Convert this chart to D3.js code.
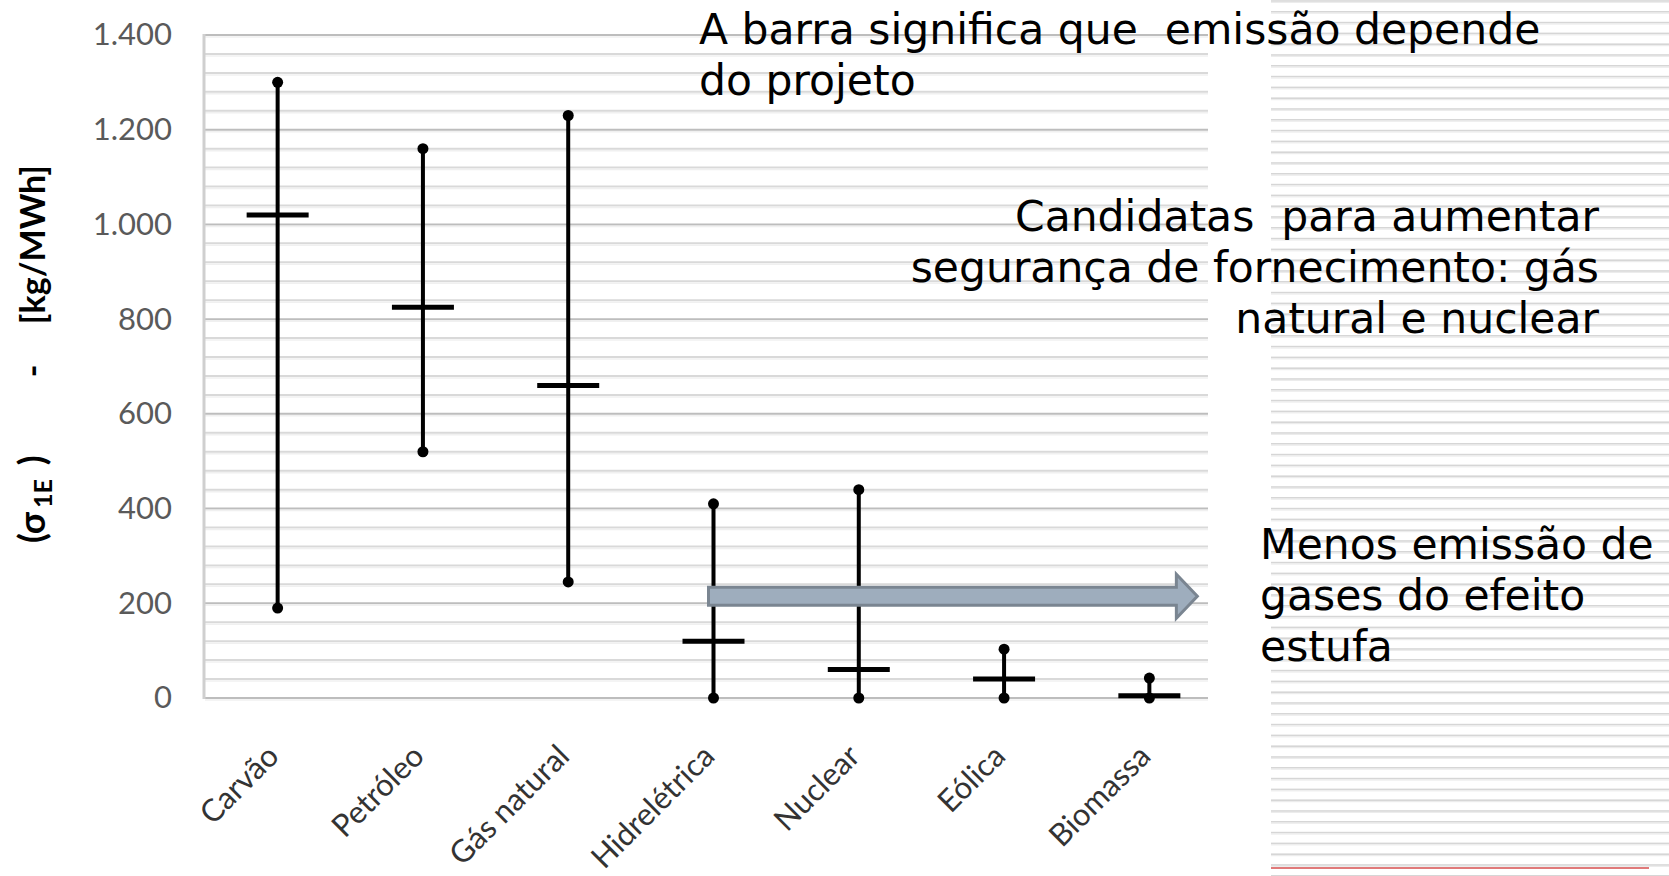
<!DOCTYPE html>
<html><head><meta charset="utf-8">
<script src="https://cdn.jsdelivr.net/npm/d3@7"></script>
<style>body{margin:0;background:#fff}svg{display:block}</style>
</head><body>
<svg id="c" width="1669" height="876"></svg>
<script>
const categories = ["Carvão","Petróleo","Gás natural","Hidrelétrica","Nuclear","Eólica","Biomassa"];
const minValues  = [190, 520, 245, 0, 0, 0, 0];
const meanValues = [1020, 825, 660, 120, 60, 40, 5];
const maxValues  = [1300, 1160, 1230, 410, 440, 103, 42];
const yTicks = [0, 200, 400, 600, 800, 1000, 1200, 1400];
const yTickLabels = ["0", "200", "400", "600", "800", "1.000", "1.200", "1.400"];
const minorStep = 40;
const noteTop = ["A barra significa que  emissão depende", "do projeto"];
const noteRight = ["Candidatas  para aumentar", "segurança de fornecimento: gás", "natural e nuclear"];
const noteArrow = ["Menos emissão de", "gases do efeito", "estufa"];
const arrowValue = 215, arrowFrom = "Hidrelétrica", arrowTo = "Biomassa";

const W = 1669, H = 876;
const svg = d3.select("#c");
const y = d3.scaleLinear().domain([0, 1400]).range([698, 35]);
const x = d3.scaleBand().domain(categories).range([205, 1222]).padding(0);
const cx = c => x(c) + x.bandwidth() / 2;
const gridRight = 1208;

// slide background stripes (right side)
const stripes = svg.append("g");
d3.range(0, 82).forEach(k => {
  const yy = 0.2 + k * 10.8;
  stripes.append("rect").attr("x", 1271).attr("y", yy).attr("width", W - 1271).attr("height", 1.6).attr("fill", "#d6d6d6");
  stripes.append("rect").attr("x", 1271).attr("y", yy + 1.6).attr("width", W - 1271).attr("height", 1.2).attr("fill", "#ececec");
});
svg.append("line").attr("x1", 1271).attr("x2", 1649).attr("y1", 868).attr("y2", 868)
  .attr("stroke", "#e07a7a").attr("stroke-width", 2);

// gridlines
const grid = svg.append("g");
d3.range(0, 1400 + 1, minorStep).forEach(v => {
  const major = v % 200 === 0;
  grid.append("line").attr("x1", 205).attr("x2", gridRight).attr("y1", y(v)).attr("y2", y(v))
    .attr("stroke", major ? "#bdbdbd" : "#d9d9d9").attr("stroke-width", 2);
  grid.append("line").attr("x1", 205).attr("x2", gridRight).attr("y1", y(v) + 2).attr("y2", y(v) + 2)
    .attr("stroke", "#f0f0f0").attr("stroke-width", 1.5);
});
// left frame
svg.append("line").attr("x1", 204).attr("x2", 204).attr("y1", y(1400) - 1).attr("y2", y(0) + 1)
  .attr("stroke", "#cfcfcf").attr("stroke-width", 3);

// y axis
const yAxis = d3.axisLeft(y).tickValues(yTicks).tickFormat((d, i) => yTickLabels[i]).tickSize(0).tickPadding(0);
const ya = svg.append("g").attr("transform", "translate(172,0)").call(yAxis);
ya.select(".domain").remove();
ya.selectAll("text").attr("font-family", "Lato, 'Liberation Sans', sans-serif").attr("font-size", 31)
  .attr("fill", "#5a5a5a").attr("text-anchor", "end");

// x axis labels
const xAxis = d3.axisBottom(x).tickSize(0).tickPadding(0);
const xa = svg.append("g").attr("transform", "translate(0,698)").call(xAxis);
xa.select(".domain").remove();
xa.selectAll("text").attr("font-family", "Lato, 'Liberation Sans', sans-serif").attr("font-size", 31)
  .attr("fill", "#333").attr("text-anchor", "end").attr("dy", 0)
  .attr("transform", "translate(3,60) rotate(-45)").attr("y", 0);

// y title
const tf = "Lato, 'Liberation Sans', sans-serif";
const yt = svg.append("g").attr("transform", "translate(45,0)");
yt.append("text").attr("transform", "translate(0,165) rotate(-90)").attr("text-anchor", "end")
  .attr("font-family", tf).attr("font-weight", 700).attr("font-size", 34).attr("fill", "#000").text("[kg/MWh]");
yt.append("text").attr("transform", "translate(0,371) rotate(-90)").attr("text-anchor", "middle")
  .attr("font-family", tf).attr("font-weight", 700).attr("font-size", 34).attr("fill", "#000").text("-");
const t3 = yt.append("text").attr("transform", "translate(0,543) rotate(-90)").attr("text-anchor", "start")
  .attr("font-family", tf).attr("font-weight", 700).attr("font-size", 36).attr("fill", "#000");
t3.append("tspan").text("(σ");
t3.append("tspan").attr("font-size", 25).attr("dy", 7).attr("dx", 4).text("1E");
t3.append("tspan").attr("dy", -7).attr("dx", 14).text(")");

// error bars
const data = categories.map((c, i) => ({c, lo: minValues[i], mid: meanValues[i], hi: maxValues[i]}));
const bars = svg.append("g").selectAll("g").data(data).join("g");
bars.append("line").attr("x1", d => cx(d.c)).attr("x2", d => cx(d.c)).attr("y1", d => y(d.lo)).attr("y2", d => y(d.hi))
  .attr("stroke", "#000").attr("stroke-width", 4);
bars.append("line").attr("x1", d => cx(d.c) - 31).attr("x2", d => cx(d.c) + 31).attr("y1", d => y(d.mid)).attr("y2", d => y(d.mid))
  .attr("stroke", "#000").attr("stroke-width", 5);
bars.append("circle").attr("cx", d => cx(d.c)).attr("cy", d => y(d.hi)).attr("r", 5.5).attr("fill", "#000");
bars.append("circle").attr("cx", d => cx(d.c)).attr("cy", d => y(d.lo)).attr("r", 5.5).attr("fill", "#000");

// arrow
const ax0 = cx(arrowFrom) - 5, ax1 = cx(arrowTo) + 48, ay = y(arrowValue);
const sh = 9, hh = 22, hl = 21;
const arrowPts = [[ax0, ay - sh], [ax1 - hl, ay - sh], [ax1 - hl, ay - hh], [ax1, ay], [ax1 - hl, ay + hh], [ax1 - hl, ay + sh], [ax0, ay + sh]];
svg.append("path").attr("d", d3.line()(arrowPts) + "Z").attr("fill", "#9eadbd").attr("stroke", "#7a8591").attr("stroke-width", 3)
  .attr("stroke-linejoin", "miter");

// notes
const nf = "'DejaVu Sans', Verdana, sans-serif";
const addNote = (lines, xx, y0, anchor) => {
  const t = svg.append("text").attr("font-family", nf).attr("font-size", 42.5).attr("fill", "#000").attr("text-anchor", anchor)
    .attr("xml:space", "preserve").style("white-space", "pre");
  lines.forEach((l, i) => t.append("tspan").attr("x", xx).attr("y", y0 + i * 51).text(l));
};
addNote(noteTop, 699, 44, "start");
addNote(noteRight, 1599, 231, "end");
addNote(noteArrow, 1260, 559, "start");
</script>
</body></html>
